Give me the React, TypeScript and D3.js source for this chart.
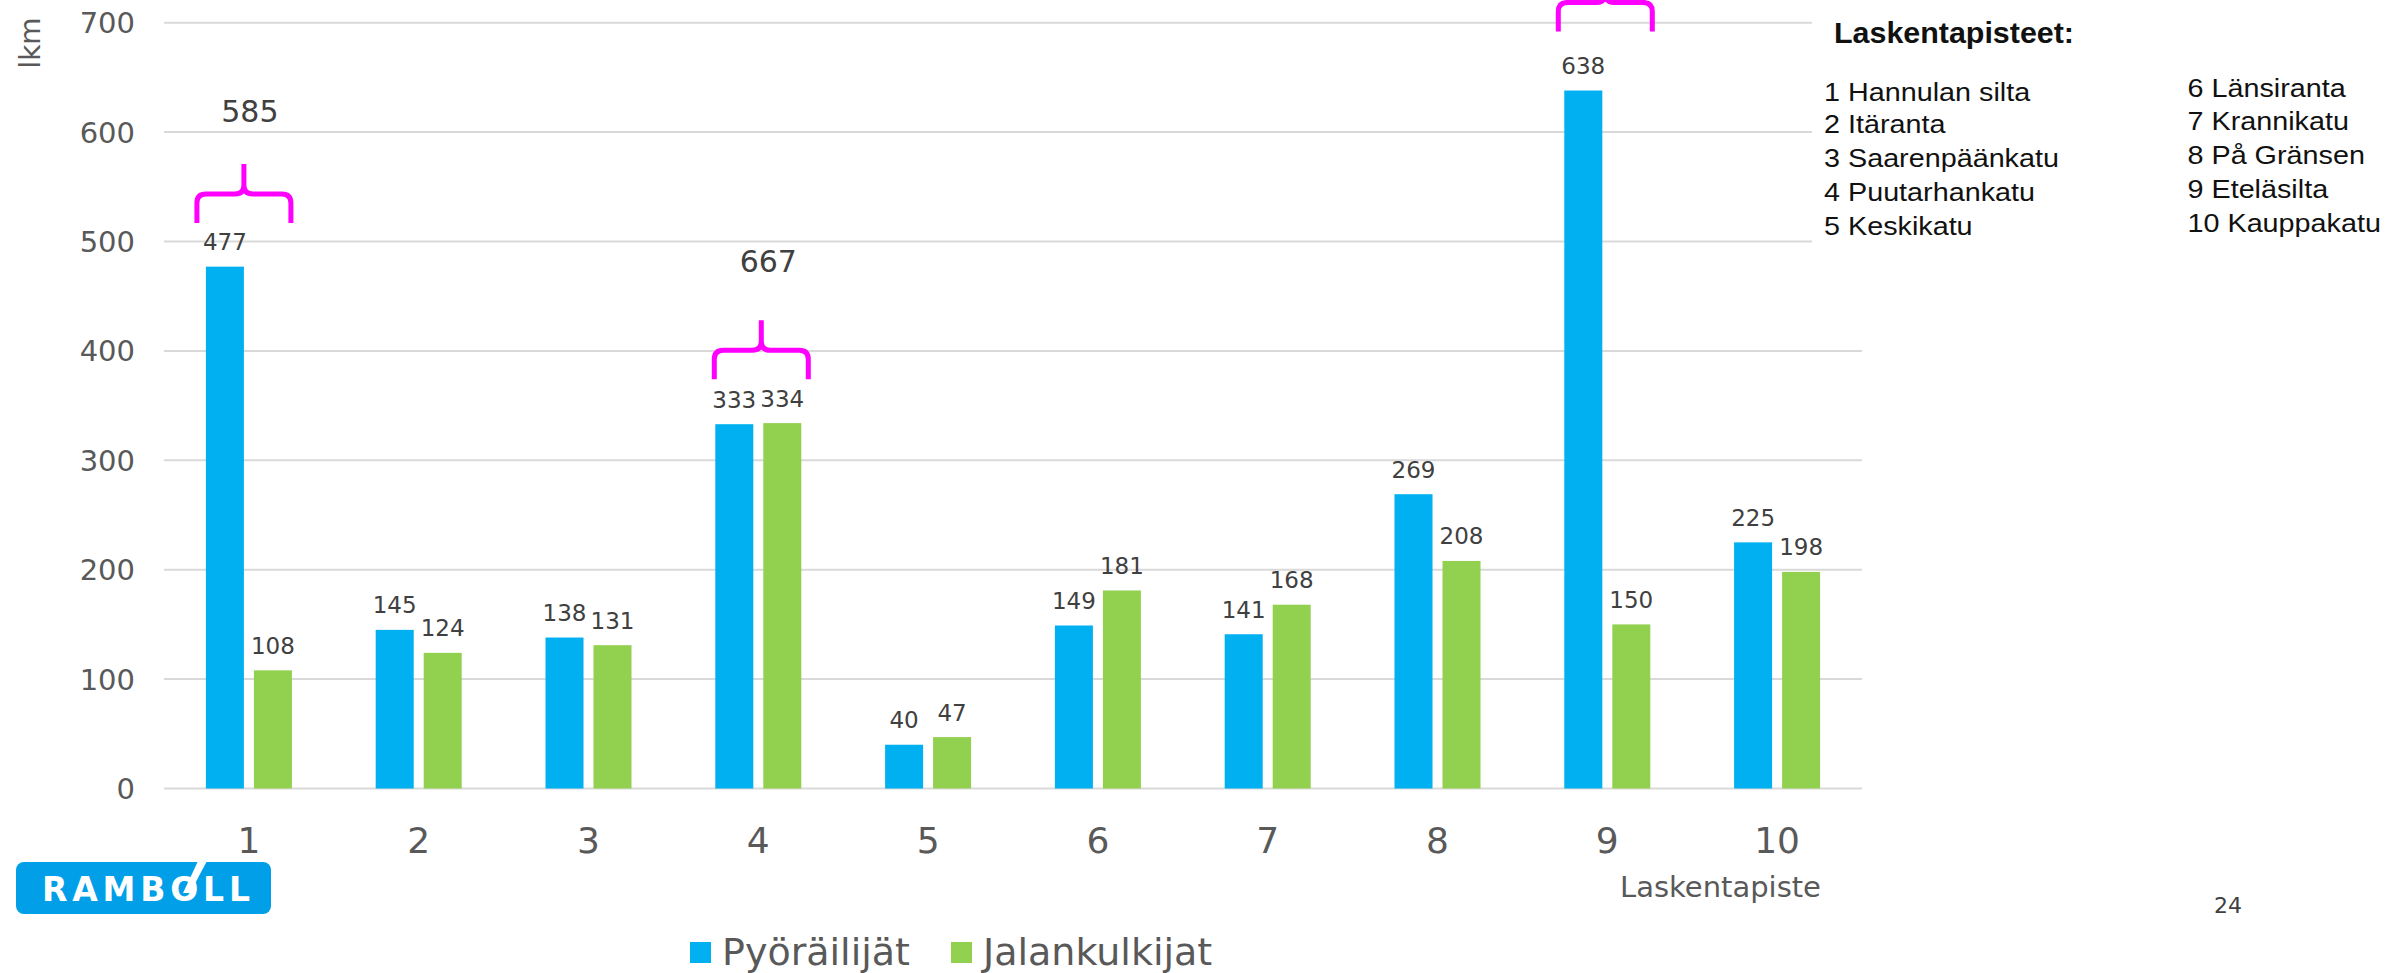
import React from "react";
import * as d3 from "d3";

const categories = ["1", "2", "3", "4", "5", "6", "7", "8", "9", "10"];
const seriesNames = ["Pyöräilijät", "Jalankulkijat"];
const cyclists = [477, 145, 138, 333, 40, 149, 141, 269, 638, 225];
const pedestrians = [108, 124, 131, 334, 47, 181, 168, 208, 150, 198];
const yTicks = [0, 100, 200, 300, 400, 500, 600, 700];
const seriesColors = ["#00B0F0", "#92D050"];

// annotated groups (totals shown with a brace); the total of group 9 lies above the visible area
const annotatedCats = ["1", "4", "9"];
const showTotal = [true, true, false];
// annotation placement (value units / px offsets)
const braceBaseValue = [517, 374, 692];
const braceDx = [-5, 3, -2];
const totalLabelValue = [609, 472, 784];
const totalLabelDx = [1, 10, 0];

const legendTitle = "Laskentapisteet:";
const legendCol1 = ["1 Hannulan silta", "2 Itäranta", "3 Saarenpäänkatu", "4 Puutarhankatu", "5 Keskikatu"];
const legendCol2 = ["6 Länsiranta", "7 Krannikatu", "8 På Gränsen", "9 Eteläsilta", "10 Kauppakatu"];

const W = 2390;
const H = 973;
const FONT = "'DejaVu Sans', Verdana, sans-serif";
const ARIAL = "'Liberation Sans', Arial, sans-serif";

export default function App() {
  React.useEffect(() => {
    document.body.style.margin = "0";
    document.body.style.overflow = "hidden";
  }, []);

  const x0 = d3.scaleBand<string>().domain(categories).range([164, 1862]).paddingInner(0).paddingOuter(0);
  const x1 = d3.scaleBand<string>().domain(seriesNames).range([-43, 43]).paddingInner(10 / 48).paddingOuter(0);
  const y = d3.scaleLinear().domain([0, 700]).range([788.5, 22.7]);
  const values = [cyclists, pedestrians];
  const cx = (c: string) => (x0(c) as number) + x0.bandwidth() / 2;

  const bracePath = (c: number, yb: number) => {
    const hw = 47, legH = 29, tipH = 30, r = 9;
    const yh = yb - legH;
    const yt = yh - tipH;
    return [
      `M${c - hw},${yb} L${c - hw},${yh + r} Q${c - hw},${yh} ${c - hw + r},${yh} L${c - r},${yh} Q${c},${yh} ${c},${yh - r} L${c},${yt}`,
      `M${c + hw},${yb} L${c + hw},${yh + r} Q${c + hw},${yh} ${c + hw - r},${yh} L${c + r},${yh} Q${c},${yh} ${c},${yh - r}`,
    ].join(" ");
  };

  const col1Y = [100.5, 133, 166.5, 200.5, 234.5];
  const col2Y = [97, 130, 164, 197.5, 231.5];

  return (
    <svg width={W} height={H} style={{ position: "absolute", left: 0, top: 0, display: "block", background: "#fff" }}>
      <rect x={0} y={0} width={W} height={H} fill="#fff" />
      {/* gridlines */}
      {yTicks.map((t) => (
        <line key={t} x1={164} x2={1862} y1={y(t)} y2={y(t)} stroke="#D9D9D9" strokeWidth={2} />
      ))}
      {/* y tick labels */}
      {yTicks.map((t) => (
        <text key={"yl" + t} x={135} y={y(t)} dy="0.36em" textAnchor="end" fontFamily={FONT} fontSize={29} fill="#595959">
          {t}
        </text>
      ))}
      <text transform="translate(40,43) rotate(-90)" textAnchor="middle" fontFamily={FONT} fontSize={28} fill="#595959">
        lkm
      </text>
      {/* bars */}
      {categories.map((c, i) =>
        seriesNames.map((s, j) => {
          const v = values[j][i];
          const bx = cx(c) + (x1(s) as number);
          return (
            <g key={c + s}>
              <rect x={bx} y={y(v)} width={x1.bandwidth()} height={y(0) - y(v)} fill={seriesColors[j]} />
              <text x={bx + x1.bandwidth() / 2} y={y(v) - 16.5} textAnchor="middle" fontFamily={FONT} fontSize={23} fill="#404040">
                {v}
              </text>
            </g>
          );
        })
      )}
      {/* x labels */}
      {categories.map((c) => (
        <text key={"xl" + c} x={cx(c)} y={853} textAnchor="middle" fontFamily={FONT} fontSize={36} fill="#595959">
          {c}
        </text>
      ))}
      <text x={1620} y={897} fontFamily={FONT} fontSize={29} fill="#595959">
        Laskentapiste
      </text>
      {/* braces and totals */}
      {annotatedCats.map((c, k) => {
        const i = categories.indexOf(c);
        const total = cyclists[i] + pedestrians[i];
        return (
          <g key={"br" + c}>
            <path d={bracePath(cx(c) + braceDx[k], y(braceBaseValue[k]))} fill="none" stroke="#FF00FF" strokeWidth={5} strokeLinejoin="round" />
            {showTotal[k] && (
              <text x={cx(c) + totalLabelDx[k]} y={y(totalLabelValue[k])} textAnchor="middle" fontFamily={FONT} fontSize={30} fill="#404040">
                {total}
              </text>
            )}
          </g>
        );
      })}
      {/* bottom legend */}
      {seriesNames.map((s, j) => {
        const lx = [690, 951][j];
        return (
          <g key={"lg" + s}>
            <rect x={lx} y={942} width={21} height={21} fill={seriesColors[j]} />
            <text x={lx + 32} y={965} fontFamily={FONT} fontSize={38} fill="#595959">
              {s}
            </text>
          </g>
        );
      })}
      {/* top-right location legend */}
      <rect x={1812} y={0} width={W - 1812} height={255} fill="#fff" />
      <text x={1834} y={43} textLength={240} lengthAdjust="spacingAndGlyphs" fontFamily={ARIAL} fontWeight="bold" fontSize={29} fill="#111">
        {legendTitle}
      </text>
      {legendCol1.map((t, i) => (
        <g key={"c1" + i} transform={`translate(1824,${col1Y[i]}) scale(1.15,1)`}>
          <text x={0} y={0} fontFamily={ARIAL} fontSize={25} fill="#111">
            {t}
          </text>
        </g>
      ))}
      {legendCol2.map((t, i) => (
        <g key={"c2" + i} transform={`translate(2187.5,${col2Y[i]}) scale(1.15,1)`}>
          <text x={0} y={0} fontFamily={ARIAL} fontSize={25} fill="#111">
            {t}
          </text>
        </g>
      ))}
      {/* Ramboll logo */}
      <rect x={16} y={862} width={255} height={52} rx={8} fill="#009FE8" />
      <text x={42} y={901} textLength={208} lengthAdjust="spacing" fontFamily={FONT} fontWeight="bold" fontSize={33} fill="#fff">
        RAMBOLL
      </text>
      <polygon points="183,893 190,893 208,859 199,859" fill="#fff" />
      {/* page number */}
      <text x={2228} y={913} textAnchor="middle" fontFamily={FONT} fontSize={22} fill="#404040">
        24
      </text>
    </svg>
  );
}
